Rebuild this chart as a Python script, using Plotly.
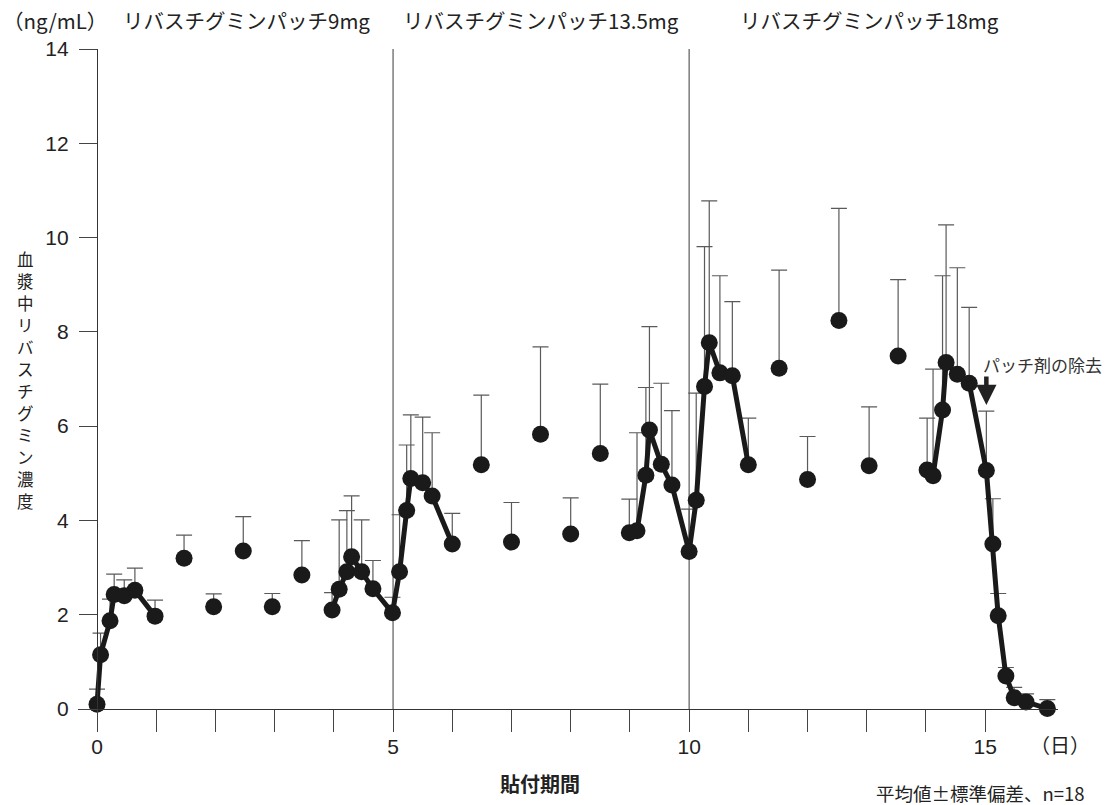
import plotly.graph_objects as go

# ---- plasma rivastigmine concentration (ng/mL), mean and upper SD ----
# 9 mg patch: intensive sampling over day 0-1
day_a = [0.00, 0.06, 0.22, 0.29, 0.46, 0.64, 0.98]
mean_a = [0.10, 1.15, 1.87, 2.43, 2.40, 2.52, 1.97]
sd_a = [0.32, 0.46, 0.46, 0.43, 0.34, 0.47, 0.34]

# 9 mg patch: single samples, days 1.5-3.5
day_b = [1.47, 1.97, 2.47, 2.96, 3.46]
mean_b = [3.20, 2.17, 3.35, 2.17, 2.84]
sd_b = [0.49, 0.27, 0.73, 0.28, 0.73]

# 9 mg -> 13.5 mg switch: intensive sampling over day 4-6
day_c = [3.97, 4.09, 4.22, 4.30, 4.47, 4.66, 4.99, 5.11, 5.23, 5.30, 5.50, 5.66, 6.00]
mean_c = [2.10, 2.54, 2.91, 3.23, 2.91, 2.55, 2.04, 2.91, 4.21, 4.89, 4.80, 4.52, 3.50]
sd_c = [0.37, 1.47, 1.30, 1.29, 1.10, 0.60, 0.33, 1.21, 1.39, 1.35, 1.39, 1.34, 0.65]

# 13.5 mg patch: single samples, days 6.5-8.5
day_d = [6.49, 7.00, 7.49, 8.00, 8.50]
mean_d = [5.18, 3.54, 5.83, 3.71, 5.42]
sd_d = [1.48, 0.84, 1.85, 0.77, 1.47]

# 13.5 mg -> 18 mg switch: intensive sampling over day 9-11
day_e = [8.99, 9.12, 9.27, 9.33, 9.53, 9.71, 10.00, 10.12, 10.26, 10.34, 10.52, 10.73, 11.00]
mean_e = [3.74, 3.78, 4.96, 5.92, 5.19, 4.75, 3.34, 4.43, 6.84, 7.77, 7.13, 7.07, 5.18]
sd_e = [0.71, 2.08, 1.86, 2.19, 1.72, 1.58, 0.90, 2.27, 2.97, 3.01, 2.06, 1.57, 0.99]

# 18 mg patch: single samples, days 11.5-13.5
day_f = [11.52, 12.00, 12.53, 13.04, 13.53]
mean_f = [7.23, 4.87, 8.24, 5.16, 7.49]
sd_f = [2.08, 0.91, 2.38, 1.25, 1.62]

# 18 mg patch: last application and washout after removal at day 15
day_g = [14.02, 14.12, 14.28, 14.34, 14.53, 14.73, 15.02, 15.13, 15.22, 15.35, 15.49, 15.69, 16.05]
mean_g = [5.07, 4.95, 6.34, 7.35, 7.10, 6.91, 5.06, 3.50, 1.98, 0.70, 0.24, 0.15, 0.01]
sd_g = [1.10, 2.26, 2.85, 2.92, 2.26, 1.61, 1.26, 0.96, 0.47, 0.18, 0.22, 0.17, 0.19]

x_ticks = list(range(16))
x_labels = [str(v) if v % 5 == 0 else "" for v in x_ticks]
y_ticks = list(range(0, 15, 2))

dose_labels = ["リバスチグミンパッチ9mg", "リバスチグミンパッチ13.5mg", "リバスチグミンパッチ18mg"]
period_edges = [5, 10]
y_title = "血漿中リバスチグミン濃度"

# ---- layout geometry (pixels) ----
W, H = 1111, 805
ML, MR, MT, MB = 78, 53, 49, 96
PW, PH = W - ML - MR, H - MT - MB

def px_x(p):
    return (p - ML) / PW

def px_y(p):
    return (H - MB - p) / PH

JP = "Noto Sans CJK JP"
NUM = "Liberation Sans, Arial"
INK = "#1a1a1a"
TXT = "#222"

all_day = day_a + day_b + day_c + day_d + day_e + day_f + day_g
all_mean = mean_a + mean_b + mean_c + mean_d + mean_e + mean_f + mean_g
all_sd = sd_a + sd_b + sd_c + sd_d + sd_e + sd_f + sd_g

line_x, line_y = [], []
for dx, my in [(day_a, mean_a), (day_c, mean_c), (day_e, mean_e), (day_g, mean_g)]:
    line_x += dx + [None]
    line_y += my + [None]

fig = go.Figure()

# upper SD bars (drawn first so markers sit on top)
fig.add_trace(go.Scatter(
    x=all_day, y=all_mean, mode="markers",
    marker=dict(size=1, color="rgba(0,0,0,0)"),
    error_y=dict(type="data", symmetric=False, array=all_sd,
                 arrayminus=[0] * len(all_sd), color="#5a5a5a",
                 thickness=1.2, width=8),
    hoverinfo="skip", showlegend=False, cliponaxis=False,
))

# connected profiles
fig.add_trace(go.Scatter(
    x=line_x, y=line_y, mode="lines",
    line=dict(color=INK, width=5), connectgaps=False,
    showlegend=False, cliponaxis=False,
))

# all mean points
fig.add_trace(go.Scatter(
    x=all_day, y=all_mean, mode="markers",
    marker=dict(size=17, color=INK, line=dict(width=0)),
    showlegend=False, cliponaxis=False,
))

shapes = [
    dict(type="line", xref="x", yref="y", x0=e, x1=e, y0=0, y1=14,
         line=dict(color="#3a3a3a", width=1), layer="below")
    for e in period_edges
]

ann = []
# unit and dose labels along the top
ann.append(dict(text="（ng/mL）", x=px_x(1), y=px_y(20), xref="paper", yref="paper",
                xanchor="left", yanchor="middle", showarrow=False,
                font=dict(family=JP, size=20.5, color=TXT)))
for txt, left in zip(dose_labels, [121, 401, 738]):
    ann.append(dict(text=txt, x=px_x(left), y=px_y(20), xref="paper", yref="paper",
                    xanchor="left", yanchor="middle", showarrow=False,
                    font=dict(family=JP, size=20.5, color=TXT)))

# vertical y-axis title, one upright character per row
for i, ch in enumerate(y_title):
    ann.append(dict(text=ch, x=px_x(25), y=px_y(259 + i * 22), xref="paper", yref="paper",
                    xanchor="center", yanchor="middle", showarrow=False,
                    font=dict(family=JP, size=16.5, color=TXT)))

# x-axis title, unit and footnote
ann.append(dict(text="<b>貼付期間</b>", x=px_x(540), y=px_y(783), xref="paper", yref="paper",
                xanchor="center", yanchor="middle", showarrow=False,
                font=dict(family=JP, size=20, color=TXT)))
ann.append(dict(text="（日）", x=px_x(1028), y=px_y(745), xref="paper", yref="paper",
                xanchor="left", yanchor="middle", showarrow=False,
                font=dict(family=JP, size=20, color=TXT)))
ann.append(dict(text="平均値±標準偏差、n=18", x=px_x(1087), y=px_y(793), xref="paper", yref="paper",
                xanchor="right", yanchor="middle", showarrow=False,
                font=dict(family=JP, size=18.5, color=TXT)))

# patch removal marker
ann.append(dict(text="", x=day_g[6], y=mean_g[6] + sd_g[6] + 0.13, xref="x", yref="y",
                showarrow=True, arrowhead=2, arrowsize=0.9, arrowwidth=4.5,
                arrowcolor="#222", ax=0, ay=-30))
ann.append(dict(text="パッチ剤の除去", x=px_x(981), y=px_y(364), xref="paper", yref="paper",
                xanchor="left", yanchor="middle", showarrow=False,
                font=dict(family=JP, size=17, color="#333")))

fig.update_layout(
    width=W, height=H,
    margin=dict(l=ML, r=MR, t=MT, b=MB),
    paper_bgcolor="white", plot_bgcolor="white",
    shapes=shapes, annotations=ann,
    xaxis=dict(range=[-0.321, 16.23], showgrid=False, zeroline=False,
               showline=True, linecolor="#333", linewidth=1.3,
               ticks="outside", ticklen=22, tickwidth=1, tickcolor="#444",
               tickvals=x_ticks, ticktext=x_labels, ticklabelstandoff=-3,
               tickfont=dict(family=NUM, size=21, color=TXT)),
    yaxis=dict(range=[0, 14], anchor="free", position=px_x(97),
               showgrid=False, zeroline=False,
               showline=True, linecolor="#333", linewidth=1.3,
               ticks="outside", ticklen=18, tickwidth=1, tickcolor="#444",
               tickvals=y_ticks, ticklabelstandoff=6,
               tickfont=dict(family=NUM, size=21, color=TXT)),
)

fig.write_html("out.html")
